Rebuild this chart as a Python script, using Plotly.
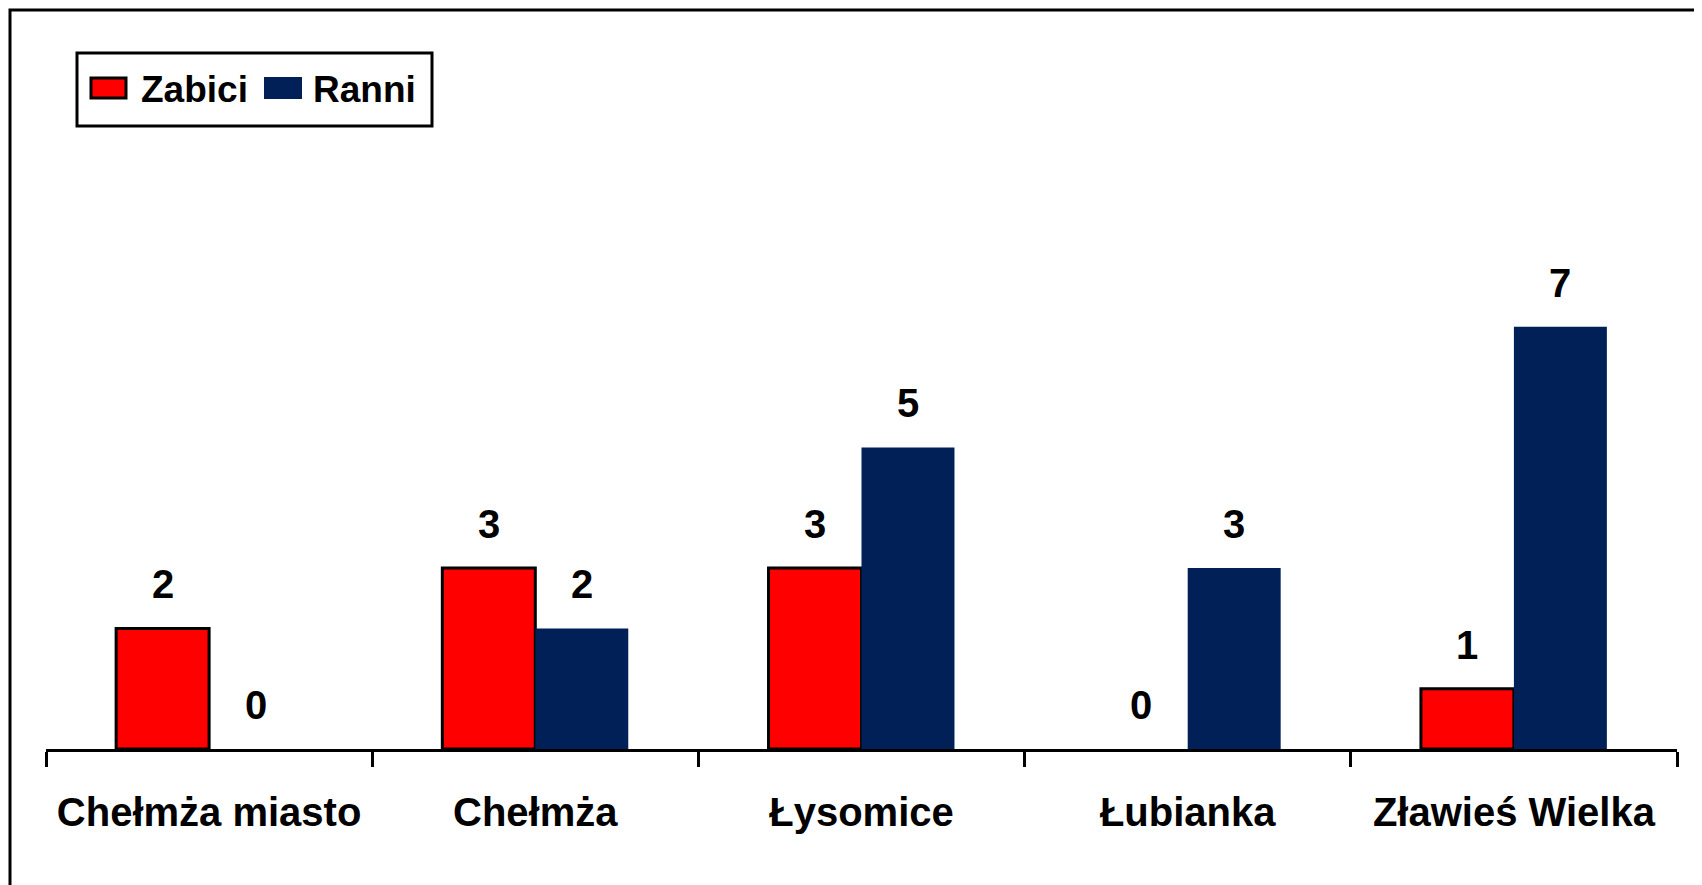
import plotly.graph_objects as go

categories = ["Chełmża miasto", "Chełmża", "Łysomice", "Łubianka", "Zławieś Wielka"]
zabici = [2, 3, 3, 0, 1]
ranni = [0, 2, 5, 3, 7]
series_names = ["Zabici", "Ranni"]

RED = "#FF0000"
NAVY = "#002057"
FONT = "Liberation Sans, Arial, sans-serif"

W, H = 1702, 885
BODY = 8  # default page margin of the html body
PL, PR, PT, PB = 46, 1677, 50, 749  # plot area in page pixels
ML, MT = PL - BODY, PT - BODY
MR = W - (PR - BODY)
MB = H - (PB - BODY)
PW, PH = PR - PL, PB - PT


def px(X):
    return (X - PL) / PW


def py(Y):
    return (PB - Y) / PH


BARGAP = 0.43
bw = (1 - BARGAP) / 2

fig = go.Figure()
fig.add_trace(go.Bar(name=series_names[0], x=categories, y=zabici, showlegend=False,
                     marker=dict(color=RED, line=dict(color="black",
                                                       width=[3 if v > 0 else 0 for v in zabici]))))
fig.add_trace(go.Bar(name=series_names[1], x=categories, y=ranni, showlegend=False,
                     marker=dict(color=NAVY, line=dict(width=0))))

bold40 = dict(family=FONT, size=40, color="black", weight="bold")
annotations = []
for i, v in enumerate(zabici):
    annotations.append(dict(x=i - bw / 2, y=v, xref="x", yref="y", text=str(v),
                            showarrow=False, yanchor="bottom", yshift=20, font=bold40))
for i, v in enumerate(ranni):
    annotations.append(dict(x=i + bw / 2, y=v, xref="x", yref="y", text=str(v),
                            showarrow=False, yanchor="bottom", yshift=20, font=bold40))

# custom legend
leg_font = dict(family=FONT, size=37, color="black", weight="bold")
annotations.append(dict(x=px(139), y=py(89), xref="paper", yref="paper", text=series_names[0],
                        showarrow=False, xanchor="left", yanchor="middle", font=leg_font))
annotations.append(dict(x=px(311), y=py(89), xref="paper", yref="paper", text=series_names[1],
                        showarrow=False, xanchor="left", yanchor="middle", font=leg_font))

shapes = [
    # outer frame
    dict(type="rect", xref="paper", yref="paper",
         x0=px(10), x1=px(1712), y0=py(900), y1=py(10),
         line=dict(color="black", width=3), fillcolor="rgba(0,0,0,0)", layer="below"),
    # legend box
    dict(type="rect", xref="paper", yref="paper",
         x0=px(77), x1=px(432), y0=py(126), y1=py(53),
         line=dict(color="black", width=3), fillcolor="white", layer="above"),
    # legend markers
    dict(type="rect", xref="paper", yref="paper",
         x0=px(91), x1=px(126), y0=py(98), y1=py(78),
         line=dict(color="black", width=3), fillcolor=RED, layer="above"),
    dict(type="rect", xref="paper", yref="paper",
         x0=px(264), x1=px(302), y0=py(99), y1=py(77),
         line=dict(width=0), fillcolor=NAVY, layer="above"),
]

fig.update_layout(
    width=W, height=H,
    margin=dict(l=ML, r=MR, t=MT, b=MB, pad=0),
    paper_bgcolor="white", plot_bgcolor="white",
    barmode="group", bargap=BARGAP, bargroupgap=0,
    font=dict(family=FONT, color="black"),
    showlegend=False,
    annotations=annotations,
    shapes=shapes,
)
fig.update_xaxes(type="category", range=[-0.5, 4.5], showline=True, linecolor="black", linewidth=3,
                 ticks="outside", ticklen=15, tickwidth=3, tickcolor="black", tickson="boundaries",
                 ticklabelstandoff=26, showgrid=False,
                 tickfont=bold40)
fig.update_yaxes(range=[0, 11.59], showticklabels=False, showgrid=False, zeroline=False,
                 showline=False, ticks="")

fig.write_html("out.html")
